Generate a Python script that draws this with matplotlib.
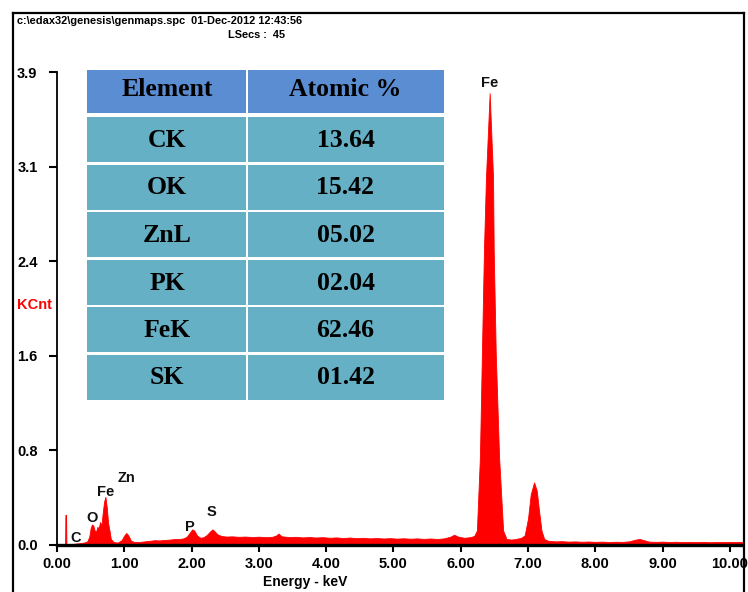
import matplotlib
matplotlib.use("Agg")
import matplotlib.pyplot as plt
from matplotlib.patches import Rectangle
from matplotlib.lines import Line2D

# ---------------- data ----------------
energy_kev = [0.00, 0.10, 0.12, 0.125, 0.135, 0.14, 0.16, 0.22, 0.28, 0.34, 0.40, 0.45, 0.48,
              0.50, 0.52, 0.54, 0.56, 0.58, 0.60, 0.62, 0.64, 0.66, 0.68, 0.70, 0.72, 0.74,
              0.76, 0.78, 0.80, 0.84, 0.90, 0.96, 1.00, 1.03, 1.06, 1.10, 1.15, 1.22, 1.30,
              1.38, 1.45, 1.52, 1.60, 1.68, 1.75, 1.82, 1.88, 1.93, 1.97, 2.01, 2.04, 2.08,
              2.13, 2.18, 2.23, 2.27, 2.31, 2.34, 2.38, 2.44, 2.52, 2.60, 2.70, 2.80, 2.90,
              3.00, 3.10, 3.20, 3.26, 3.29, 3.34, 3.45, 3.55, 3.65, 3.75, 3.85, 3.95, 4.05,
              4.15, 4.25, 4.35, 4.45, 4.55, 4.65, 4.75, 4.85, 4.95, 5.05, 5.15, 5.25, 5.35,
              5.45, 5.55, 5.65, 5.75, 5.85, 5.90, 5.96, 6.05, 6.14, 6.20, 6.24, 6.285, 6.315,
              6.345, 6.375, 6.43, 6.48, 6.49, 6.52, 6.57, 6.63, 6.68, 6.75, 6.82, 6.90, 6.95,
              7.00, 7.04, 7.09, 7.13, 7.16, 7.20, 7.24, 7.30, 7.40, 7.50, 7.60, 7.70, 7.80,
              7.90, 8.00, 8.10, 8.20, 8.30, 8.40, 8.50, 8.60, 8.66, 8.72, 8.80, 8.90, 9.00,
              9.10, 9.20, 9.30, 9.40, 9.50, 9.60, 9.70, 9.80, 9.90, 10.00, 10.10, 10.18]
counts_kcnt = [0.0, 0.0, 0.0, 0.25, 0.25, 0.005, 0.005, 0.008, 0.012, 0.015, 0.02, 0.03, 0.07,
               0.14, 0.17, 0.16, 0.12, 0.11, 0.15, 0.14, 0.19, 0.16, 0.27, 0.36, 0.40, 0.31,
               0.18, 0.12, 0.05, 0.025, 0.02, 0.04, 0.08, 0.10, 0.08, 0.035, 0.025, 0.025, 0.03,
               0.035, 0.04, 0.038, 0.042, 0.045, 0.05, 0.05, 0.055, 0.07, 0.10, 0.13, 0.12, 0.08,
               0.06, 0.065, 0.085, 0.11, 0.13, 0.115, 0.09, 0.075, 0.07, 0.072, 0.068, 0.07, 0.066,
               0.069, 0.065, 0.068, 0.08, 0.095, 0.072, 0.066, 0.068, 0.063, 0.066, 0.062, 0.065, 0.06,
               0.063, 0.058, 0.062, 0.057, 0.06, 0.055, 0.058, 0.054, 0.057, 0.053, 0.056, 0.052, 0.055,
               0.051, 0.054, 0.05, 0.055, 0.07, 0.085, 0.07, 0.06, 0.065, 0.075, 0.12, 0.73, 1.60,
               2.45, 3.05, 3.75, 3.05, 2.45, 1.60, 0.73, 0.12, 0.05, 0.045, 0.05, 0.06, 0.08,
               0.22, 0.42, 0.52, 0.45, 0.30, 0.12, 0.05, 0.035, 0.03, 0.032, 0.028, 0.03, 0.027,
               0.029, 0.026, 0.028, 0.025, 0.027, 0.026, 0.03, 0.045, 0.05, 0.04, 0.028, 0.026, 0.028,
               0.025, 0.027, 0.024, 0.026, 0.024, 0.026, 0.023, 0.025, 0.024, 0.026, 0.024, 0.025]

xtick_vals = [0, 1, 2, 3, 4, 5, 6, 7, 8, 9, 10]
xtick_labels = ["0.00", "1.00", "2.00", "3.00", "4.00", "5.00", "6.00", "7.00", "8.00", "9.00", "10.00"]
ytick_vals = [0.0, 0.785, 1.57, 2.355, 3.14, 3.925]
ytick_labels = ["0.0", "0.8", "1.6", "2.4", "3.1", "3.9"]

peak_labels = ["C", "O", "Fe", "Zn", "P", "S", "Fe"]
peak_x = [0.28, 0.52, 0.73, 1.03, 1.98, 2.29, 6.43]
peak_y = [0.06, 0.22, 0.44, 0.56, 0.15, 0.27, 3.83]

elements = ["CK", "OK", "ZnL", "PK", "FeK", "SK"]
atomic_pct = ["13.64", "15.42", "05.02", "02.04", "62.46", "01.42"]

# ---------------- figure ----------------
W, H = 748, 592
fig = plt.figure(figsize=(W / 100, H / 100), dpi=100)
fig.patch.set_facecolor("white")
sans = ["Liberation Sans", "DejaVu Sans"]
serif = ["Liberation Serif", "DejaVu Serif"]

def fx(x):
    return x / W

def fy(y):
    return 1 - y / H

ax = fig.add_axes([fx(57), 1 - 545 / H, 685 / W, 473 / H])
ax.fill_between(energy_kev, counts_kcnt, 0, color="#ff0000", linewidth=0.6, edgecolor="#ff0000")
ax.set_xlim(0, 10.18)
ax.set_ylim(0, 3.925)
for s in ["top", "right"]:
    ax.spines[s].set_visible(False)
ax.spines["left"].set_linewidth(1.3)
ax.spines["bottom"].set_linewidth(2.4)
ax.set_xticks(xtick_vals)
ax.set_xticklabels(xtick_labels, fontsize=10.5, fontweight="bold", family=sans)
ax.set_yticks(ytick_vals)
ax.set_yticklabels(ytick_labels, fontsize=10.5, fontweight="bold", family=sans)
ax.tick_params(axis="x", direction="out", length=5, width=1.5, pad=3.5)
ax.tick_params(axis="y", direction="out", length=5.5, width=1.5, pad=8.5)
ax.set_facecolor("none")

for lab, x, y in zip(peak_labels, peak_x, peak_y):
    ax.text(x, y, lab, fontsize=10.5, fontweight="bold", family=sans, ha="center", va="center",
            color="#111111")

# header texts
hdr_size = 7.9
fig.text(fx(17), fy(21), "c:\\edax32\\genesis\\genmaps.spc  01-Dec-2012 12:43:56", fontsize=hdr_size,
         fontweight="bold", family=sans, ha="left", va="center")
fig.text(fx(285), fy(35), "LSecs :  45", fontsize=hdr_size, fontweight="bold", family=sans,
         ha="right", va="center")
fig.text(fx(17), fy(305), "KCnt", fontsize=10.5, fontweight="bold", family=sans,
         ha="left", va="center", color="#ff0000")
fig.text(fx(305), fy(582), "Energy - keV", fontsize=10, fontweight="bold", family=sans,
         ha="center", va="center")

# table
hdr_color = "#5b8dd3"
row_color = "#65b0c4"
x0, xm, x1 = 87, 247, 444
tsize = 18.5
def cell(xa, xb, ya, yb, color):
    fig.add_artist(Rectangle((fx(xa), fy(yb)), (xb - xa) / W, (yb - ya) / H,
                             transform=fig.transFigure, facecolor=color, edgecolor="none"))

cell(x0, xm - 1, 70, 113, hdr_color)
cell(xm + 1, x1, 70, 113, hdr_color)
fig.text(fx((x0 + xm) / 2), fy(90), "Element", fontsize=tsize, fontweight="bold", family=serif,
         ha="center", va="center")
fig.text(fx((xm + x1) / 2), fy(90), "Atomic %", fontsize=tsize, fontweight="bold", family=serif,
         ha="center", va="center")
top = 117
pitch = 47.5
for i, (el, pc) in enumerate(zip(elements, atomic_pct)):
    ya = top + i * pitch
    yb = ya + pitch - 2.5
    cell(x0, xm - 1, ya, yb, row_color)
    cell(xm + 1, x1, ya, yb, row_color)
    yc = (ya + yb) / 2 + 1
    fig.text(fx((x0 + xm) / 2), fy(yc), el, fontsize=tsize, fontweight="bold", family=serif,
             ha="center", va="center")
    fig.text(fx((xm + x1) / 2), fy(yc), pc, fontsize=tsize, fontweight="bold", family=serif,
             ha="center", va="center")

# outer frame
for xs, ys in [([13, 744], [13, 13]), ([13, 13], [13, 592]), ([744, 744], [13, 592])]:
    fig.add_artist(Line2D([fx(v) for v in xs], [fy(v) for v in ys], transform=fig.transFigure,
                          color="black", linewidth=1.6))

fig.savefig("out.png", dpi=100)
